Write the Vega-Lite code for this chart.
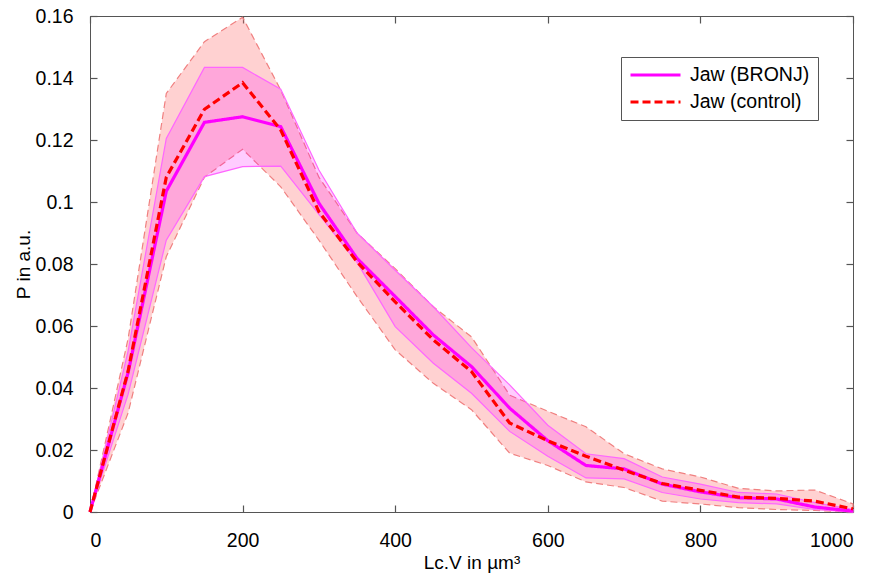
{
  "$schema": "https://vega.github.io/schema/vega-lite/v6.json",
  "autosize": {"type": "none"},
  "padding": {"left": 90, "top": 16, "right": 25, "bottom": 64},
  "width": 763,
  "height": 496,
  "background": "white",
  "config": {
    "font": "Liberation Sans",
    "view": {"stroke": "#555555", "strokeWidth": 1},
    "axis": {
      "grid": false,
      "domainColor": "#555555",
      "tickColor": "#555555",
      "tickWidth": 1.2,
      "labelFont": "Liberation Sans",
      "titleFont": "Liberation Sans",
      "labelFontSize": 19.5,
      "titleFontSize": 19,
      "labelColor": "#000000",
      "titleColor": "#000000",
      "titleFontWeight": "normal"
    }
  },
  "data": {
    "values": [
      {"series": "Jaw (BRONJ)", "x": 0, "mean": 0, "lo": 0, "hi": 0},
      {"series": "Jaw (BRONJ)", "x": 50, "mean": 0.045, "lo": 0.038, "hi": 0.052},
      {"series": "Jaw (BRONJ)", "x": 100, "mean": 0.1035, "lo": 0.0877, "hi": 0.1205},
      {"series": "Jaw (BRONJ)", "x": 150, "mean": 0.1257, "lo": 0.1082, "hi": 0.1434},
      {"series": "Jaw (BRONJ)", "x": 200, "mean": 0.1275, "lo": 0.1114, "hi": 0.1434},
      {"series": "Jaw (BRONJ)", "x": 250, "mean": 0.1243, "lo": 0.1116, "hi": 0.1364},
      {"series": "Jaw (BRONJ)", "x": 300, "mean": 0.0996, "lo": 0.096, "hi": 0.1103},
      {"series": "Jaw (BRONJ)", "x": 350, "mean": 0.0818, "lo": 0.0805, "hi": 0.09},
      {"series": "Jaw (BRONJ)", "x": 400, "mean": 0.0695, "lo": 0.0598, "hi": 0.078},
      {"series": "Jaw (BRONJ)", "x": 450, "mean": 0.0571, "lo": 0.048, "hi": 0.0662},
      {"series": "Jaw (BRONJ)", "x": 500, "mean": 0.0469, "lo": 0.0383, "hi": 0.053},
      {"series": "Jaw (BRONJ)", "x": 550, "mean": 0.0335, "lo": 0.026, "hi": 0.041},
      {"series": "Jaw (BRONJ)", "x": 600, "mean": 0.023, "lo": 0.018, "hi": 0.028},
      {"series": "Jaw (BRONJ)", "x": 650, "mean": 0.015, "lo": 0.011, "hi": 0.0188},
      {"series": "Jaw (BRONJ)", "x": 700, "mean": 0.0139, "lo": 0.0107, "hi": 0.0172},
      {"series": "Jaw (BRONJ)", "x": 750, "mean": 0.009, "lo": 0.0063, "hi": 0.0113},
      {"series": "Jaw (BRONJ)", "x": 800, "mean": 0.0065, "lo": 0.0042, "hi": 0.009},
      {"series": "Jaw (BRONJ)", "x": 850, "mean": 0.0046, "lo": 0.003, "hi": 0.0063},
      {"series": "Jaw (BRONJ)", "x": 900, "mean": 0.0042, "lo": 0.0026, "hi": 0.0058},
      {"series": "Jaw (BRONJ)", "x": 950, "mean": 0.0016, "lo": 0.0008, "hi": 0.003},
      {"series": "Jaw (BRONJ)", "x": 1000, "mean": 0.0003, "lo": 0, "hi": 0.0008},
      {"series": "Jaw (control)", "x": 0, "mean": 0, "lo": 0, "hi": 0},
      {"series": "Jaw (control)", "x": 50, "mean": 0.0455, "lo": 0.032, "hi": 0.056},
      {"series": "Jaw (control)", "x": 100, "mean": 0.108, "lo": 0.0824, "hi": 0.135},
      {"series": "Jaw (control)", "x": 150, "mean": 0.1299, "lo": 0.108, "hi": 0.1517},
      {"series": "Jaw (control)", "x": 200, "mean": 0.1385, "lo": 0.117, "hi": 0.1596},
      {"series": "Jaw (control)", "x": 250, "mean": 0.1232, "lo": 0.1049, "hi": 0.1361},
      {"series": "Jaw (control)", "x": 300, "mean": 0.0969, "lo": 0.0877, "hi": 0.108},
      {"series": "Jaw (control)", "x": 350, "mean": 0.0807, "lo": 0.0695, "hi": 0.09},
      {"series": "Jaw (control)", "x": 400, "mean": 0.0678, "lo": 0.0523, "hi": 0.0785},
      {"series": "Jaw (control)", "x": 450, "mean": 0.0555, "lo": 0.0415, "hi": 0.0662},
      {"series": "Jaw (control)", "x": 500, "mean": 0.0453, "lo": 0.033, "hi": 0.0565},
      {"series": "Jaw (control)", "x": 550, "mean": 0.0287, "lo": 0.019, "hi": 0.0377},
      {"series": "Jaw (control)", "x": 600, "mean": 0.023, "lo": 0.015, "hi": 0.0325},
      {"series": "Jaw (control)", "x": 650, "mean": 0.018, "lo": 0.0097, "hi": 0.0275},
      {"series": "Jaw (control)", "x": 700, "mean": 0.0135, "lo": 0.0079, "hi": 0.0188},
      {"series": "Jaw (control)", "x": 750, "mean": 0.0092, "lo": 0.0035, "hi": 0.0139},
      {"series": "Jaw (control)", "x": 800, "mean": 0.007, "lo": 0.0026, "hi": 0.0113},
      {"series": "Jaw (control)", "x": 850, "mean": 0.0048, "lo": 0.0014, "hi": 0.0076},
      {"series": "Jaw (control)", "x": 900, "mean": 0.0044, "lo": 0.0008, "hi": 0.0068},
      {"series": "Jaw (control)", "x": 950, "mean": 0.0035, "lo": 0.0005, "hi": 0.0071},
      {"series": "Jaw (control)", "x": 1000, "mean": 0.001, "lo": 0, "hi": 0.0026}
    ]
  },
  "resolve": {"axis": {"x": "independent", "y": "independent"}},
  "layer": [
    {
      "transform": [{"filter": "datum.series === 'Jaw (control)'"}],
      "mark": {"type": "area", "fill": "#ff7070", "fillOpacity": 0.32, "stroke": "#f08080", "strokeWidth": 1.2, "strokeDash": [7, 4]},
      "encoding": {
        "x": {"field": "x", "type": "quantitative", "scale": {"domain": [0, 1000], "nice": false},
              "axis": {"values": [0, 200, 400, 600, 800, 1000], "format": "d", "title": "Lc.V in µm³", "tickSize": -7, "labelPadding": 26, "titlePadding": 4}},
        "y": {"field": "lo", "type": "quantitative", "scale": {"domain": [0, 0.16], "nice": false},
              "axis": {"values": [0, 0.02, 0.04, 0.06, 0.08, 0.1, 0.12, 0.14, 0.16], "format": "~g", "title": "P in a.u.", "tickSize": -7, "labelPadding": 24, "titlePadding": 2}},
        "y2": {"field": "hi"}
      }
    },
    {
      "transform": [{"filter": "datum.series === 'Jaw (BRONJ)'"}],
      "mark": {"type": "area", "fill": "#ff00ff", "fillOpacity": 0.2, "stroke": "#ff66ff", "strokeWidth": 1.2},
      "encoding": {
        "x": {"field": "x", "type": "quantitative", "axis": null},
        "y": {"field": "lo", "type": "quantitative", "axis": null},
        "y2": {"field": "hi"}
      }
    },
    {
      "mark": {"type": "line", "strokeWidth": 3.2},
      "encoding": {
        "x": {"field": "x", "type": "quantitative",
              "axis": {"orient": "top", "values": [0, 200, 400, 600, 800, 1000], "labels": false, "title": null, "tickSize": -7, "domain": false}},
        "y": {"field": "mean", "type": "quantitative",
              "axis": {"orient": "right", "values": [0, 0.02, 0.04, 0.06, 0.08, 0.1, 0.12, 0.14, 0.16], "labels": false, "title": null, "tickSize": -7, "domain": false}},
        "color": {"field": "series", "type": "nominal",
                  "scale": {"domain": ["Jaw (BRONJ)", "Jaw (control)"], "range": ["#ff00ff", "#ff0000"]},
                  "legend": {"title": null, "orient": "none", "legendX": 531, "legendY": 41,
                             "symbolType": "stroke", "symbolSize": 2500, "symbolStrokeWidth": 3,
                             "labelFontSize": 19.5, "labelFont": "Liberation Sans", "labelColor": "#000000",
                             "labelOffset": 8, "strokeColor": "#555555", "fillColor": "white", "padding": 8,
                             "clipHeight": 20, "rowPadding": 7}},
        "strokeDash": {"field": "series", "type": "nominal",
                       "scale": {"domain": ["Jaw (BRONJ)", "Jaw (control)"], "range": [[1, 0], [8, 4]]},
                       "legend": {"title": null}}
      }
    }
  ]
}
